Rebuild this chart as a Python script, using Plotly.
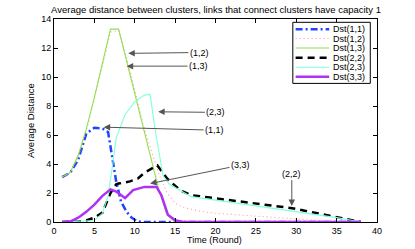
import plotly.graph_objects as go

# ---------------- data ----------------
x_11 = [1, 2, 3, 4, 5, 6, 6.7, 7.1, 7.7, 8.3, 9, 9.6, 10.3, 11, 38]
y_11 = [3.1, 3.4, 4.3, 6.1, 6.5, 6.45, 6.2, 4.9, 2.8, 1.4, 0.7, 0.3, 0.05, 0, 0]

x_12 = [1, 2, 3, 4, 5, 6, 7, 8, 9, 10, 11, 12, 13, 14, 15, 16, 18, 20, 29, 35, 38]
y_12 = [3.1, 3.4, 4.5, 6.3, 8.5, 10.8, 13.1, 13.2, 11.3, 9.1, 6.8, 5.0, 3.3, 2.0,
        1.3, 1.0, 0.75, 0.6, 0.25, 0.02, 0]

x_13 = [1, 2, 3, 4, 5, 6, 7, 8, 9, 10, 11, 12, 13, 14, 15, 38]
y_13 = [3.1, 3.4, 4.6, 6.4, 8.6, 10.9, 13.3, 13.3, 11.1, 8.8, 6.5, 4.3, 2.2, 0.5, 0.0, 0.0]

x_22 = [1, 3, 4, 5, 6, 7, 7.7, 8, 9.4, 10.4, 11.2, 12.8, 14, 15.6, 17, 29.5, 34, 38]
y_22 = [0, 0.02, 0.1, 0.3, 0.65, 2.0, 2.6, 2.65, 2.8, 3.0, 3.4, 3.9, 3.0, 2.2,
        1.85, 0.95, 0.45, 0]

x_23 = [1, 5, 6, 6.7, 7.3, 7.7, 8.8, 10, 11.2, 11.9, 12.5, 13.5, 14.3, 15.2, 17,
        29.5, 35, 38]
y_23 = [0, 0.1, 0.6, 1.8, 4.1, 5.8, 7.4, 8.3, 8.75, 8.8, 6.45, 3.2, 2.6, 2.3, 1.75,
        0.75, 0.3, 0]

x_33 = [1, 2, 3, 4, 5, 6, 7, 7.7, 8.8, 9.8, 11.2, 12.7, 13.3, 14.1, 15, 16, 38]
y_33 = [0, 0.03, 0.3, 0.7, 1.2, 1.8, 2.25, 2.1, 1.65, 2.2, 2.42, 2.42, 1.84, 0.5,
        0.12, 0, 0]

series_names = ["Dst(1,1)", "Dst(1,2)", "Dst(1,3)", "Dst(2,2)", "Dst(2,3)", "Dst(3,3)"]

# annotation labels: (text, tip x, tip y, text x, text y)
ann_labels = ["(1,2)", "(1,3)", "(2,3)", "(1,1)", "(3,3)", "(2,2)"]
ann_tip_x = [9.2, 9.0, 12.9, 6.15, 11.9, 29.45]
ann_tip_y = [11.63, 10.75, 7.6, 6.54, 2.65, 1.1]
ann_txt_x = [18.0, 17.9, 20.05, 19.9, 23.1, 29.45]
ann_txt_y = [11.69, 10.75, 7.56, 6.33, 3.92, 3.34]

x_ticks = [0, 5, 10, 15, 20, 25, 30, 35, 40]
y_ticks = [0, 2, 4, 6, 8, 10, 12, 14]

# ---------------- styles ----------------
W, H = 415, 249
L, R, T, B = 54.4, 376.7, 19.0, 221.7
FONT = "Liberation Sans, Arial, sans-serif"

styles = [
    dict(color="#2244ff", width=2.5, dash="7px,3px,2px,3px"),
    dict(color="#ff9a9a", width=1.1, dash="1px,3px"),
    dict(color="#90e050", width=1.1, dash="solid"),
    dict(color="#000000", width=2.5, dash="7px,5px"),
    dict(color="#80ffdc", width=1.1, dash="solid"),
    dict(color="#b030f5", width=2.5, dash="solid"),
]
xs = [x_11, x_12, x_13, x_22, x_23, x_33]
ys = [y_11, y_12, y_13, y_22, y_23, y_33]

fig = go.Figure()
for name, xv, yv, st in zip(series_names, xs, ys, styles):
    fig.add_trace(go.Scatter(x=xv, y=yv, mode="lines", name=name,
                             line=st, showlegend=False))


def px_to_paper(px, py):
    return (px - L) / (R - L), (B - py) / (B - T)


shapes = []
annotations = []

# manual legend (MATLAB-like compact legend)
lx0, ly0 = px_to_paper(292.7, 22.3)
lx1, ly1 = px_to_paper(370.0, 83.3)
shapes.append(dict(type="rect", xref="paper", yref="paper", x0=lx0, y0=ly1,
                   x1=lx1, y1=ly0, line=dict(color="#000", width=1),
                   fillcolor="white", layer="above"))
row_y = [29.3, 38.5, 48.0, 57.6, 67.2, 76.7]
for name, st, ry in zip(series_names, styles, row_y):
    sx0, sy = px_to_paper(295.5, ry)
    sx1, _ = px_to_paper(329.0, ry)
    shapes.append(dict(type="line", xref="paper", yref="paper", x0=sx0, x1=sx1,
                       y0=sy, y1=sy, layer="above",
                       line=dict(color=st["color"], width=st["width"],
                                 dash=st["dash"])))
    tx, _ = px_to_paper(331.0, ry)
    annotations.append(dict(text=name, xref="paper", yref="paper", x=tx, y=sy,
                            xanchor="left", yanchor="middle", showarrow=False,
                            font=dict(family=FONT, size=9, color="#000")))

# arrow annotations
for t, tx, ty, ax, ay in zip(ann_labels, ann_tip_x, ann_tip_y, ann_txt_x, ann_txt_y):
    annotations.append(dict(text=t, x=tx, y=ty, xref="x", yref="y",
                            ax=ax, ay=ay, axref="x", ayref="y",
                            showarrow=True, arrowhead=2, arrowsize=1.3,
                            arrowwidth=1, arrowcolor="#555", standoff=0,
                            font=dict(family=FONT, size=9, color="#000")))

# axis titles
annotations.append(dict(text="Time (Round)", xref="paper", yref="paper",
                        x=px_to_paper(215, 0)[0], y=px_to_paper(0, 239.5)[1],
                        xanchor="center", yanchor="middle", showarrow=False,
                        font=dict(family=FONT, size=9, color="#000")))
annotations.append(dict(text="Average Distance", xref="paper", yref="paper",
                        x=px_to_paper(31, 0)[0], y=0.5, textangle=-90,
                        xanchor="center", yanchor="middle", showarrow=False,
                        font=dict(family=FONT, size=9.5, color="#000")))

axis_common = dict(showline=True, linecolor="#000", linewidth=1, mirror="ticks",
                   ticks="inside", ticklen=4, tickcolor="#000", showgrid=False,
                   zeroline=False, tickfont=dict(family=FONT, size=9, color="#000"))

fig.update_layout(
    width=W, height=H,
    margin=dict(l=L, r=W - R, t=T, b=H - B, pad=0),
    paper_bgcolor="white", plot_bgcolor="white",
    title=dict(text="Average distance between clusters, links that connect clusters have capacity 1",
               x=216 / W, xref="container", xanchor="center",
               y=1 - 9.5 / H, yref="container", yanchor="middle",
               font=dict(family=FONT, size=9.5, color="#000")),
    xaxis=dict(range=[0, 40], tickvals=x_ticks, ticktext=[str(v) for v in x_ticks],
               **axis_common),
    yaxis=dict(range=[0, 14], tickvals=y_ticks, ticktext=[str(v) for v in y_ticks],
               **axis_common),
    shapes=shapes, annotations=annotations, showlegend=False,
)

fig.write_html("out.html", config={"displayModeBar": False},
               post_script="document.body.style.margin='0';document.body.style.overflow='hidden';")
